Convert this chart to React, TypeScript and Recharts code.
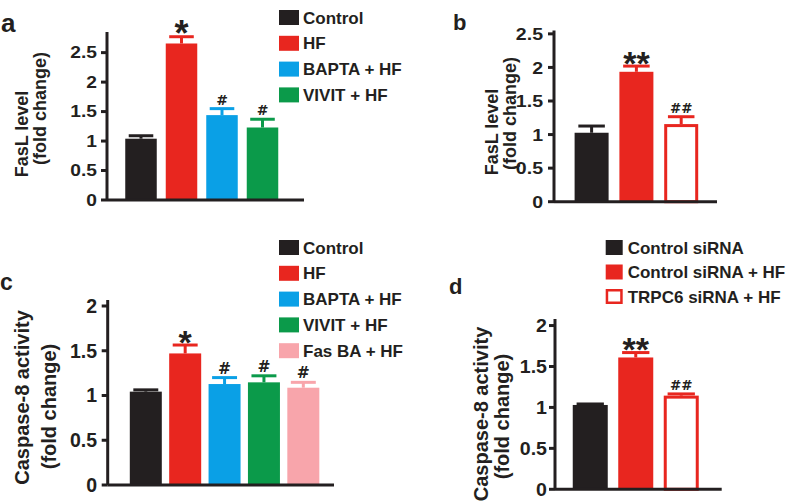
import React from "react";
import { BarChart, Bar, XAxis, YAxis } from "recharts";

const INK = "#231f20";
const FONT = "'Liberation Sans', Arial, sans-serif";

// a – FasL level, inhibitors
const fasCategories = ["Control", "HF", "BAPTA + HF", "VIVIT + HF"];
const fasValues = [1.04, 2.655, 1.44, 1.23];
const fasErrors = [0.05, 0.115, 0.11, 0.14];
const fasMarks = ["", "*", "#", "#"];
const fasTicks = [0, 0.5, 1, 1.5, 2, 2.5];

// b – FasL level, siRNA
const siCategories = ["Control siRNA", "Control siRNA + HF", "TRPC6 siRNA + HF"];
const fasSiValues = [1.027, 1.935, 1.156];
const fasSiErrors = [0.1, 0.085, 0.11];
const fasSiMarks = ["", "**", "##"];

// c – caspase-8 activity, inhibitors
const caspCategories = ["Control", "HF", "BAPTA + HF", "VIVIT + HF", "Fas BA + HF"];
const caspValues = [1.043, 1.47, 1.128, 1.147, 1.087];
const caspErrors = [0.02, 0.094, 0.072, 0.073, 0.06];
const caspMarks = ["", "*", "#", "#", "#"];
const caspTicks = [0, 0.5, 1, 1.5, 2];

// d – caspase-8 activity, siRNA
const caspSiValues = [1.03, 1.61, 1.144];
const caspSiErrors = [0.012, 0.06, 0.021];
const caspSiMarks = ["", "**", "##"];

const groupColors = ["#231f20", "#e8261f", "#0aa0e6", "#0b9a4a", "#f8a5ab"];
const siColors = ["#231f20", "#e8261f", "#e8261f"];
const siHollow = [false, false, true];

type PanelProps = {
  left: number;
  top: number;
  width: number;
  height: number;
  margin: { top: number; right: number; bottom: number; left: number };
  categories: string[];
  values: number[];
  errors: number[];
  marks: string[];
  colors: string[];
  hollow?: boolean[];
  domainTop: number;
  ticks: number[];
  tickFont: number;
  tickScale: number;
  tickGap: number;
  padL: number;
  padR: number;
  barSize: number;
  starSize: number;
  hashSize: number;
};

const Panel: React.FC<PanelProps> = (p) => {
  const rows = p.categories.map((name, i) => ({
    name,
    value: p.values[i],
    err: p.errors[i],
    mark: p.marks[i],
    i,
  }));

  const renderTick = (props: any) => {
    const { x, y, payload } = props;
    return (
      <g transform={`translate(${x},${y})`}>
        <text
          transform={`scale(${p.tickScale},1)`}
          textAnchor="end"
          dy={p.tickFont * 0.358}
          fontSize={p.tickFont}
          fontWeight="bold"
          fontFamily={FONT}
          fill={INK}
        >
          {payload.value}
        </text>
      </g>
    );
  };

  // bar + upper whisker + significance mark
  const renderBar = (props: any) => {
    const { x, y, width, height, payload } = props;
    const i = payload.i;
    const color = p.colors[i];
    const hollow = p.hollow ? p.hollow[i] : false;
    const cx = x + width / 2;
    const perUnit = height / payload.value;
    const errY = y - payload.err * perUnit;
    const capW = width * 0.78;
    const capTop = errY - 1.5;
    let label = null;
    if (payload.mark) {
      const star = payload.mark.includes("*");
      const size = star ? p.starSize : p.hashSize;
      const baseline = star ? capTop - 3 + size * 0.39 : capTop - 2.5;
      label = (
        <text
          x={cx}
          y={baseline}
          textAnchor="middle"
          fontSize={size}
          fontWeight="bold"
          fontFamily={star ? FONT : "'DejaVu Sans', sans-serif"}
          fill={INK}
        >
          {payload.mark}
        </text>
      );
    }
    return (
      <g>
        {hollow ? (
          <rect x={x + 1.5} y={y + 1.5} width={width - 3} height={height - 1.5} fill="#fff" stroke={color} strokeWidth={3} />
        ) : (
          <rect x={x} y={y} width={width} height={height} fill={color} />
        )}
        <line x1={cx} x2={cx} y1={y} y2={errY} stroke={color} strokeWidth={3} />
        <line x1={cx - capW / 2} x2={cx + capW / 2} y1={errY} y2={errY} stroke={color} strokeWidth={3} />
        {label}
      </g>
    );
  };

  return (
    <div style={{ position: "absolute", left: p.left, top: p.top }}>
      <BarChart width={p.width} height={p.height} data={rows} margin={p.margin}>
        <XAxis
          dataKey="name"
          tick={false}
          tickLine={false}
          height={10}
          padding={{ left: p.padL, right: p.padR }}
          axisLine={{ stroke: INK, strokeWidth: 3 }}
        />
        <YAxis
          width={100}
          domain={[0, p.domainTop]}
          ticks={p.ticks}
          interval={0}
          tickSize={6}
          tickMargin={p.tickGap - 6}
          tick={renderTick}
          tickLine={{ stroke: INK, strokeWidth: 3 }}
          axisLine={{ stroke: INK, strokeWidth: 3 }}
        />
        <Bar dataKey="value" barSize={p.barSize} shape={renderBar} isAnimationActive={false} />
      </BarChart>
    </div>
  );
};

const LegendBlock: React.FC<{
  x: number;
  y: number;
  pitch: number;
  boxW: number;
  textX: number;
  labels: string[];
  colors: string[];
  hollow?: boolean[];
}> = ({ x, y, pitch, boxW, textX, labels, colors, hollow }) => (
  <g>
    {labels.map((label, i) => {
      const top = y + i * pitch;
      const isHollow = hollow ? hollow[i] : false;
      return (
        <g key={label}>
          {isHollow ? (
            <rect x={x + 1.25} y={top + 1.25} width={boxW - 2.5} height={12.5} fill="#fff" stroke={colors[i]} strokeWidth={2.5} />
          ) : (
            <rect x={x} y={top} width={boxW} height={15} fill={colors[i]} />
          )}
          <text x={textX} y={top + 7.5 + 6.1} fontSize={17} fontWeight="bold" fontFamily={FONT} fill={INK}>
            {label}
          </text>
        </g>
      );
    })}
  </g>
);

const yLabel = (x: number, y: number, size: number, text: string) => (
  <text
    transform={`translate(${x},${y}) rotate(-90)`}
    textAnchor="middle"
    fontSize={size}
    fontWeight="bold"
    fontFamily={FONT}
    fill={INK}
  >
    {text}
  </text>
);

export default function App() {
  return (
    <div
      style={{
        position: "absolute",
        left: 0,
        top: 0,
        width: 787,
        height: 504,
        background: "#fff",
        overflow: "hidden",
      }}
    >
      <Panel
        left={0} top={0} width={400} height={230}
        margin={{ top: 32, right: 96, bottom: 20, left: 7 }}
        categories={fasCategories} values={fasValues} errors={fasErrors} marks={fasMarks}
        colors={groupColors} domainTop={2.85} ticks={fasTicks}
        tickFont={16} tickScale={1.2} tickGap={10}
        padL={13.25} padR={21.75} barSize={31.5} starSize={36} hashSize={14}
      />
      <Panel
        left={400} top={0} width={387} height={230}
        margin={{ top: 30.5, right: 70, bottom: 18.3, left: 54 }}
        categories={siCategories} values={fasSiValues} errors={fasSiErrors} marks={fasSiMarks}
        colors={siColors} hollow={siHollow} domainTop={2.55} ticks={fasTicks}
        tickFont={17} tickScale={1.15} tickGap={11}
        padL={15.6} padR={13} barSize={34} starSize={34} hashSize={13.5}
      />
      <Panel
        left={0} top={230} width={400} height={274}
        margin={{ top: 70, right: 66, bottom: 9, left: 7.7 }}
        categories={caspCategories} values={caspValues} errors={caspErrors} marks={caspMarks}
        colors={groupColors} domainTop={2.067} ticks={caspTicks}
        tickFont={19.5} tickScale={1} tickGap={10.7}
        padL={18.1} padR={11.3} barSize={32} starSize={34} hashSize={15.5}
      />
      <Panel
        left={400} top={230} width={387} height={274}
        margin={{ top: 89, right: 65.3, bottom: 4.7, left: 55 }}
        categories={siCategories} values={caspSiValues} errors={caspSiErrors} marks={caspSiMarks}
        colors={siColors} hollow={siHollow} domainTop={2.08} ticks={caspTicks}
        tickFont={17.5} tickScale={1.12} tickGap={8}
        padL={12.75} padR={17.45} barSize={35} starSize={34} hashSize={13.5}
      />

      <svg
        width={787}
        height={504}
        style={{ position: "absolute", left: 0, top: 0, pointerEvents: "none" }}
      >
        <text x={1} y={32} fontSize={26} fontWeight="bold" fontFamily={FONT} fill={INK}>a</text>
        <text x={453} y={30} fontSize={22} fontWeight="bold" fontFamily={FONT} fill={INK}>b</text>
        <text x={0} y={290} fontSize={23} fontWeight="bold" fontFamily={FONT} fill={INK}>c</text>
        <text x={449} y={294} fontSize={22} fontWeight="bold" fontFamily={FONT} fill={INK}>d</text>

        {yLabel(28, 134, 18, "FasL level")}
        {yLabel(46, 108.5, 18, "(fold change)")}
        {yLabel(498, 132, 18, "FasL level")}
        {yLabel(516, 113.5, 18, "(fold change)")}
        {yLabel(29, 397.5, 20, "Caspase-8 activity")}
        {yLabel(56, 406.5, 20, "(fold change)")}
        {yLabel(488, 414, 20, "Caspase-8 activity")}
        {yLabel(509, 416.5, 20, "(fold change)")}

        <LegendBlock x={279} y={10} pitch={25.8} boxW={20} textX={303} labels={fasCategories} colors={groupColors} />
        <LegendBlock x={279} y={240} pitch={25.8} boxW={20} textX={303} labels={caspCategories} colors={groupColors} />
        <LegendBlock x={605.7} y={240} pitch={24.5} boxW={17} textX={627.7} labels={siCategories} colors={siColors} hollow={siHollow} />
      </svg>
    </div>
  );
}
